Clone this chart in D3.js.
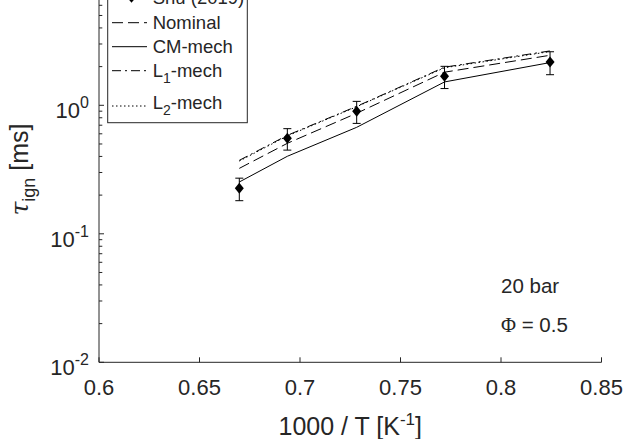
<!DOCTYPE html>
<html>
<head>
<meta charset="utf-8">
<script src="https://cdn.jsdelivr.net/npm/d3@7/dist/d3.min.js"></script>
<style>
  html, body { margin: 0; padding: 0; background: #fff; }
  svg { display: block; }
  text { font-family: "Liberation Sans", Arial, Helvetica, sans-serif; fill: #262626; }
</style>
</head>
<body>
<svg id="chart" width="629" height="439"></svg>
<script>
// ---- data ----
const invT = [0.6698, 0.6937, 0.7282, 0.7719, 0.8244];     // 1000/T [1/K]
const shu2019 = [0.226, 0.553, 0.898, 1.68, 2.17];          // tau_ign [ms]
const shu2019Err = [0.045, 0.105, 0.175, 0.33, 0.44];       // +/- [ms]
const nominal = [0.323, 0.506, 0.867, 1.81, 2.45];
const cmMech = [0.253, 0.401, 0.674, 1.52, 2.15];
const l1Mech = [0.373, 0.584, 0.982, 1.98, 2.65];
const l2Mech = [0.368, 0.578, 0.975, 1.96, 2.62];
const xTicks = [0.6, 0.65, 0.7, 0.75, 0.8, 0.85];
const xTickLabels = ["0.6", "0.65", "0.7", "0.75", "0.8", "0.85"];
const yTicks = [0.01, 0.1, 1];            // 10^1 lies above the visible frame
const yTickExp = ["-2", "-1", "0"];
const legendNames = ["Shu (2019)", "Nominal", "CM-mech", "L1-mech", "L2-mech"];

// ---- layout ----
const svg = d3.select("#chart");
const axisColor = "#262626";
const x = d3.scaleLinear().domain([0.6, 0.85]).range([99, 601.5]);
const y = d3.scaleLog().domain([0.01, 10]).range([362.3, -23.2]);
const x0 = x.range()[0], x1 = x.range()[1];
const yb = y.range()[0], yt = y.range()[1];

// axes lines
const gAx = svg.append("g").attr("stroke", axisColor).attr("stroke-width", 1).attr("fill", "none");
gAx.append("line").attr("x1", x0).attr("x2", x1).attr("y1", yb).attr("y2", yb);
gAx.append("line").attr("x1", x0).attr("x2", x0).attr("y1", yb).attr("y2", yt);

// x ticks (inward)
xTicks.forEach((t, i) => {
  gAx.append("line").attr("x1", x(t)).attr("x2", x(t)).attr("y1", yb).attr("y2", yb - 5);
  svg.append("text").attr("x", x(t)).attr("y", yb + 33).attr("text-anchor", "middle")
    .attr("font-size", 22).text(xTickLabels[i]);
});

// y ticks major + minor (inward)
const d0 = Math.log10(y.domain()[0]), d1 = Math.log10(y.domain()[1]);
for (let e = d0; e <= d1; e++) {
  for (let m = 1; m <= 9; m++) {
    const v = m * Math.pow(10, e);
    if (v > y.domain()[1] * 1.0001) break;
    const len = m === 1 ? 5 : 3.3;
    gAx.append("line").attr("x1", x0).attr("x2", x0 + len).attr("y1", y(v)).attr("y2", y(v));
  }
}
yTicks.forEach((t, i) => {
  const tx = svg.append("text").attr("x", 89).attr("y", y(t) + 13).attr("text-anchor", "end")
    .attr("font-size", 22);
  tx.append("tspan").text("10");
  tx.append("tspan").attr("dy", -10).attr("font-size", 16).text(yTickExp[i]);
});

// axis titles
const xt = svg.append("text").attr("x", (x0 + x1) / 2).attr("y", 435).attr("text-anchor", "middle")
  .attr("font-size", 25);
xt.append("tspan").text("1000 / T [K");
xt.append("tspan").attr("dy", -10).attr("font-size", 17).text("-1");
xt.append("tspan").attr("dy", 10).text("]");

const yl = svg.append("text").attr("transform", `translate(28,${(yb + yt) / 2}) rotate(-90)`)
  .attr("text-anchor", "middle").attr("font-size", 25);
yl.append("tspan").attr("font-family", "'DejaVu Serif', serif").attr("font-style", "italic").text("τ");
yl.append("tspan").attr("dy", 7).attr("font-size", 18).text("ign");
yl.append("tspan").attr("dy", -7).text(" [ms]");

// model lines
const line = d3.line().x((d, i) => x(invT[i])).y(d => y(d));
const styles = [
  { data: nominal, dash: "11,5" },
  { data: cmMech, dash: null },
  { data: l1Mech, dash: "9,4,2,4" },
  { data: l2Mech, dash: "1.5,2.5" }
];
styles.forEach(s => {
  svg.append("path").datum(s.data).attr("d", line).attr("fill", "none")
    .attr("stroke", "#000").attr("stroke-width", 1)
    .attr("stroke-dasharray", s.dash);
});

// experimental error bars + diamonds
const gE = svg.append("g");
shu2019.forEach((v, i) => {
  const cx = x(invT[i]);
  const lo = y(v - shu2019Err[i]), hi = y(v + shu2019Err[i]);
  gE.append("line").attr("x1", cx).attr("x2", cx).attr("y1", lo).attr("y2", hi).attr("stroke", "#000");
  gE.append("line").attr("x1", cx - 4).attr("x2", cx + 4).attr("y1", lo).attr("y2", lo).attr("stroke", "#000");
  gE.append("line").attr("x1", cx - 4).attr("x2", cx + 4).attr("y1", hi).attr("y2", hi).attr("stroke", "#000");
  const cy = y(v);
  gE.append("path").attr("d", `M${cx},${cy - 5.5}L${cx + 4.5},${cy}L${cx},${cy + 5.5}L${cx - 4.5},${cy}Z`)
    .attr("fill", "#000");
});

// legend
const lg = svg.append("g");
lg.append("rect").attr("x", 107.7).attr("y", -20).attr("width", 139.6).attr("height", 142.7)
  .attr("fill", "#fff").attr("stroke", axisColor).attr("stroke-width", 1);
const rowY = [-2.7, 22.7, 46.7, 70.7, 106];
const rowBase = [4, 29.3, 53.3, 76.7, 109.3];
const legendDash = [null, "11,5", null, "9,4,2,4", "1.5,2.5"];
legendNames.forEach((n, i) => {
  if (i === 0) {
    const cx = 131.5, cy = rowY[0];
    lg.append("path").attr("d", `M${cx},${cy - 5.5}L${cx + 4.5},${cy}L${cx},${cy + 5.5}L${cx - 4.5},${cy}Z`).attr("fill", "#000");
  } else {
    lg.append("line").attr("x1", 112).attr("x2", 147).attr("y1", rowY[i]).attr("y2", rowY[i])
      .attr("stroke", "#000").attr("stroke-width", 1).attr("stroke-dasharray", legendDash[i]);
  }
  const t = lg.append("text").attr("x", 152.7).attr("y", rowBase[i]).attr("font-size", 18.5);
  const m = n.match(/^L(\d)(-mech)$/);
  if (m) {
    t.append("tspan").text("L");
    t.append("tspan").attr("dy", 6).attr("font-size", 14).text(m[1]);
    t.append("tspan").attr("dy", -6).text(m[2]);
  } else {
    t.text(n);
  }
});

// annotations
svg.append("text").attr("x", 501).attr("y", 293.3).attr("font-size", 20.5).text("20 bar");
const phi = svg.append("text").attr("x", 501).attr("y", 331.7).attr("font-size", 20.5);
phi.append("tspan").attr("font-family", "'Liberation Serif', 'Times New Roman', serif").text("Φ");
phi.append("tspan").text(" = 0.5");
</script>
</body>
</html>
